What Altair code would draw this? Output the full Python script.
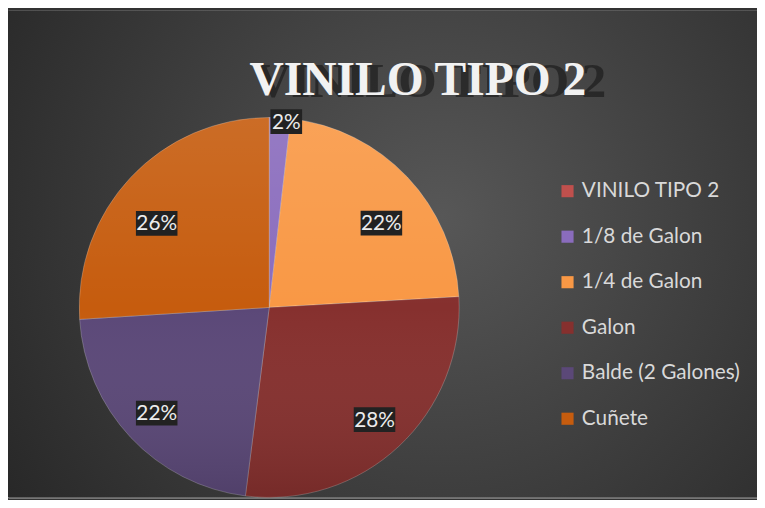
import altair as alt
import pandas as pd

categories = ["VINILO TIPO 2", "1/8 de Galon", "1/4 de Galon", "Galon", "Balde (2 Galones)", "Cuñete"]
values = [0, 1.8, 22.3, 27.9, 22.0, 26.0]
colors = ["#c0504d", "#8a6cbd", "#f99845", "#86302e", "#5b4878", "#c65c0e"]
title_text = "VINILO TIPO 2"

W, H = 757, 492
CX, CY, R = 264, 300, 192
LCX, LCY, LRX, LRY = 264, 311, 156, 140

df = pd.DataFrame({"cat": categories, "value": values})
df["idx"] = range(len(df))

base = alt.Chart(df)
one = base.transform_aggregate(n="count()").transform_calculate(t=f"'{title_text}'")

bg = one.mark_rect(
    fill={"gradient": "radial", "x1": 0.58, "y1": 0.45, "r1": 0, "x2": 0.58, "y2": 0.45, "r2": 0.72,
          "stops": [{"offset": 0, "color": "#575757"}, {"offset": 1, "color": "#262626"}]}
).encode(x=alt.value(0), x2=alt.value(W), y=alt.value(0), y2=alt.value(H))

tshadow = one.mark_text(
    font="Liberation Serif", fontWeight="bold", fontSize=50, color="#0d0d0d", opacity=0.5,
    align="left", baseline="alphabetic"
).encode(x=alt.value(250), y=alt.value(87), text="t:N")

title = one.mark_text(
    font="Liberation Serif", fontWeight="bold", fontSize=48, color="#f2f2f2",
    align="left", baseline="alphabetic"
).encode(x=alt.value(244), y=alt.value(85), text="t:N")

arcs = base.mark_arc(radius=R, stroke="#ffffff", strokeOpacity=0.22, strokeWidth=1).encode(
    theta=alt.Theta("value:Q", stack=True),
    order=alt.Order("idx:Q"),
    color=alt.Color("cat:N", sort=categories,
                    scale=alt.Scale(domain=categories, range=colors),
                    legend=alt.Legend(title=None, orient="none", legendX=555, legendY=172,
                                      symbolType="square", symbolSize=150, symbolStrokeWidth=0,
                                      labelFont="Lato", labelFontSize=21, labelColor="#d9d9d9",
                                      labelOffset=4, rowPadding=24, padding=0, labelLimit=300)),
    x=alt.value(CX), y=alt.value(CY),
)

overlay = one.mark_arc(
    radius=R, theta=0, theta2=6.2832,
    fill={"gradient": "linear", "x1": 0, "y1": 0, "x2": 0, "y2": 1,
          "stops": [{"offset": 0, "color": "rgba(255,255,255,0.10)"},
                    {"offset": 0.5, "color": "rgba(255,255,255,0)"},
                    {"offset": 1, "color": "rgba(0,0,0,0.12)"}]}
).encode(x=alt.value(CX), y=alt.value(CY))

lab = base.transform_joinaggregate(total="sum(value)").transform_window(
    cum="sum(value)", sort=[alt.SortField("idx")], frame=[None, 0]
).transform_filter("datum.value > 0").transform_calculate(
    mid="(datum.cum - datum.value/2)/datum.total*2*PI",
    small="datum.value/datum.total < 0.05",
    label="format(datum.value/datum.total, '.0%')",
).transform_calculate(
    lx=f"datum.small ? {LCX} + 199*sin(datum.mid) + 6 : {LCX} + {LRX}*sin(datum.mid)",
    ly=f"datum.small ? {LCY} - 199*cos(datum.mid) : {LCY} - {LRY}*cos(datum.mid)",
    w="length(datum.label)*10 + 12",
).transform_calculate(
    x1="datum.lx - datum.w/2", x2="datum.lx + datum.w/2",
    y1="datum.ly - 12.5", y2="datum.ly + 12.5",
)

boxes = lab.mark_rect(fill="#222222").encode(
    x=alt.X("x1:Q", scale=None), x2="x2:Q",
    y=alt.Y("y1:Q", scale=None), y2="y2:Q",
)
texts = lab.mark_text(font="Lato", fontSize=21, color="#ececec", align="center", baseline="middle", dy=1).encode(
    x=alt.X("lx:Q", scale=None), y=alt.Y("ly:Q", scale=None), text="label:N"
)

chart = alt.layer(bg, tshadow, title, arcs, overlay, boxes, texts).properties(
    width=W, height=H, padding=0, autosize=alt.AutoSizeParams(type="none")
).configure_view(stroke=None).configure(background="#333333")

chart.save("out.html", embed_options={"renderer": "svg", "actions": False})
